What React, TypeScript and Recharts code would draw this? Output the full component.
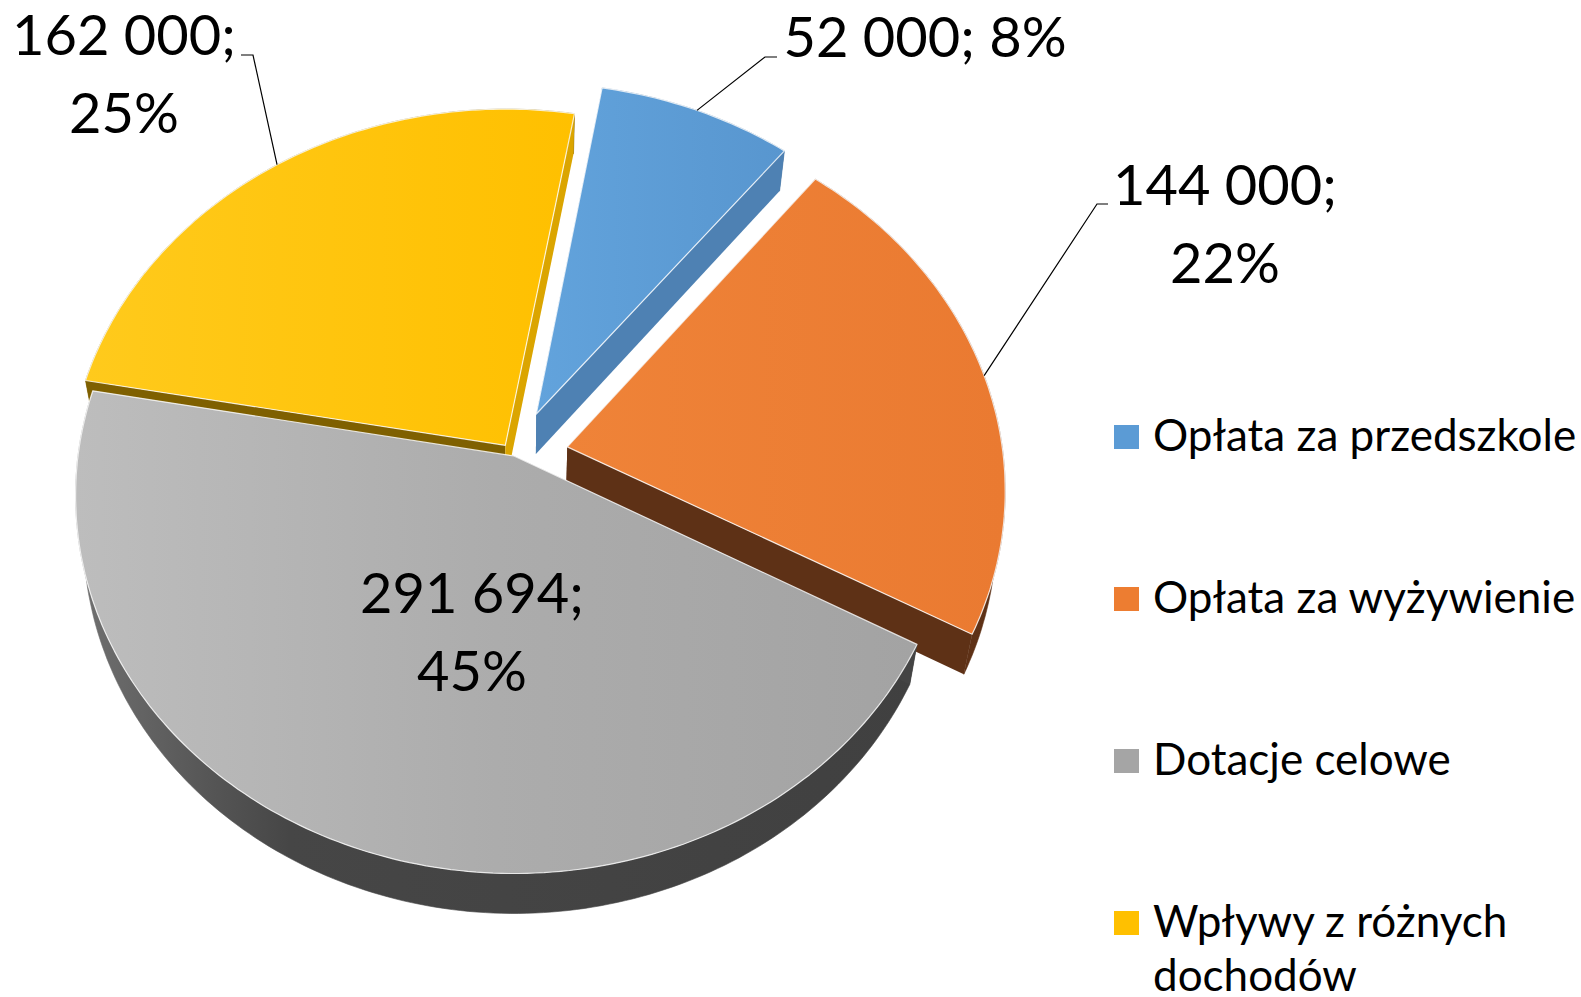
import React from "react";
import { Legend, Pie, PieChart } from "recharts";

const CATEGORIES = [
  "Opłata za przedszkole",
  "Opłata za wyżywienie",
  "Dotacje celowe",
  "Wpływy z różnych dochodów",
];
const VALUES = [52000, 144000, 291694, 162000];

const COLORS = ["#5B9BD5", "#ED7D31", "#A5A5A5", "#FFC000"];
// side faces of each slice: [start edge, end edge, outer rim]
const SIDES = [
  ["#4A7BAA", "#4E81B3", "#41709E"],
  ["#5E3116", "#5E3116", "#5E3116"],
  ["#444444", "#444444", "url(#grayRim)"],
  ["#7F6000", "#DBA500", "#7F6000"],
];
const EXPLODE = [0.125, 0.125, 0, 0.035];

// where excel put the data labels (text centre / baseline, leader elbow)
const LABEL_LAYOUT = [
  { x: 925, y: 57, oneLine: true, elbow: [[765, 57], [777, 57]] },
  { x: 1225, y: 205, oneLine: false, elbow: [[1097, 204], [1108, 204]] },
  { x: 472, y: 613, oneLine: false, elbow: null },
  { x: 124, y: 55, oneLine: false, elbow: [[253, 55], [241, 55]] },
];

const data = CATEGORIES.map((name, i) => ({ name, value: VALUES[i] }));

const SQUASH = 0.857; // vertical / horizontal radius of the tilted disc
const PERSP = 0.105; // far side shrinks a bit
const DEPTH = 40;
const BOTTOM_SHRINK = 0.982; // bottom face sits a little further from the eye
const RAD = Math.PI / 180;
const FONT = "Lato, 'Open Sans', sans-serif";

type Pt = [number, number];

function project(cx: number, cy: number, r: number, u: number, v: number): Pt {
  const w = 1 + PERSP * v;
  return [cx + (r * u) / w, cy - (r * SQUASH * v) / w];
}

function sliceGeom(p: any) {
  const e = EXPLODE[p.index] ?? 0;
  const ou = e * Math.cos(p.midAngle * RAD);
  const ov = e * Math.sin(p.midAngle * RAD);
  const apex = project(p.cx, p.cy, p.outerRadius, ou, ov);
  const n = Math.max(2, Math.ceil(Math.abs(p.endAngle - p.startAngle)));
  const rim: Pt[] = [];
  for (let i = 0; i <= n; i++) {
    const a = (p.startAngle + ((p.endAngle - p.startAngle) * i) / n) * RAD;
    rim.push(project(p.cx, p.cy, p.outerRadius, ou + Math.cos(a), ov + Math.sin(a)));
  }
  const m = p.midAngle * RAD;
  const mid = project(p.cx, p.cy, p.outerRadius, ou + Math.cos(m), ov + Math.sin(m));
  return { apex, rim, mid };
}

const poly = (pts: Pt[]) =>
  "M" + pts.map((q) => q[0].toFixed(1) + "," + q[1].toFixed(1)).join("L") + "Z";

const renderWalls = (p: any) => {
  const { apex, rim } = sliceGeom(p);
  const [startC, endC, rimC] = SIDES[p.index];
  const down = (q: Pt): Pt => [p.cx + (q[0] - p.cx) * BOTTOM_SHRINK, q[1] + DEPTH];
  const s = rim[0];
  const e = rim[rim.length - 1];
  const band = [...rim, ...rim.slice().reverse().map(down)];
  return (
    <g key={`wall-${p.index}`}>
      <path d={poly(band)} fill={rimC} stroke={rimC} strokeWidth={0.6} />
      <path d={poly([apex, s, down(s), down(apex)])} fill={startC} />
      <path d={poly([apex, e, down(e), down(apex)])} fill={endC} />
    </g>
  );
};

const renderTops = (p: any) => {
  const { apex, rim } = sliceGeom(p);
  return (
    <path
      key={`top-${p.index}`}
      d={poly([apex, ...rim])}
      fill={`url(#top${p.index})`}
      stroke="rgba(255,255,255,0.8)"
      strokeWidth={1.2}
      strokeLinejoin="round"
    />
  );
};

const fmt = (v: number) => String(v).replace(/\B(?=(\d{3})+(?!\d))/g, " ");

const renderText = (p: any) => {
  const lay = LABEL_LAYOUT[p.index];
  const { mid } = sliceGeom(p);
  const pct = `${Math.round(p.percent * 100)}%`;
  const first = `${fmt(p.value)};`;
  return (
    <g key={`lbl-${p.index}`}>
      {lay.elbow && (
        <polyline
          points={[mid, ...lay.elbow].map((q) => q.join(",")).join(" ")}
          fill="none"
          stroke="#000"
          strokeWidth={1.2}
        />
      )}
      <text x={lay.x} y={lay.y} textAnchor="middle" fontFamily={FONT} fontSize={56} fill="#000">
        {lay.oneLine ? `${first} ${pct}` : first}
      </text>
      {!lay.oneLine && (
        <text x={lay.x} y={lay.y + 78} textAnchor="middle" fontFamily={FONT} fontSize={56} fill="#000">
          {pct}
        </text>
      )}
    </g>
  );
};

const renderLegend = () => (
  <div style={{ position: "relative", width: 467, height: 590, fontFamily: FONT }}>
    {CATEGORIES.map((name, i) => (
      <div key={name} style={{ position: "absolute", left: 0, top: i * 162, width: 467 }}>
        <div
          style={{
            position: "absolute",
            left: 0,
            top: 18,
            width: 25,
            height: 24,
            background: COLORS[i],
          }}
        />
        <div
          style={{
            position: "absolute",
            left: 39,
            top: 0,
            width: 428,
            fontSize: 44,
            lineHeight: "54px",
            color: "#000",
          }}
        >
          {name}
        </div>
      </div>
    ))}
  </div>
);

export default function App() {
  const pieCommon = {
    data,
    dataKey: "value",
    nameKey: "name",
    cx: 514,
    cy: 456,
    outerRadius: 436,
    startAngle: 80,
    endAngle: -280,
    stroke: "none",
    fillOpacity: 0,
    labelLine: false,
    isAnimationActive: false,
  };

  return (
    <div style={{ position: "absolute", left: 0, top: 0, width: 1581, height: 997, background: "#fff" }}>
      <PieChart width={1581} height={997} margin={{ top: 0, right: 0, bottom: 0, left: 0 }}>
        <defs>
          <linearGradient id="top0" x1="0" y1="0" x2="1" y2="0">
            <stop offset="0" stopColor="#62A3DC" />
            <stop offset="1" stopColor="#5896CF" />
          </linearGradient>
          <linearGradient id="top1" x1="0" y1="0" x2="1" y2="0">
            <stop offset="0" stopColor="#EF8338" />
            <stop offset="1" stopColor="#EA7A31" />
          </linearGradient>
          <linearGradient id="top2" x1="0" y1="0" x2="1" y2="0">
            <stop offset="0" stopColor="#BDBDBD" />
            <stop offset="0.5" stopColor="#ACACAC" />
            <stop offset="1" stopColor="#A3A3A3" />
          </linearGradient>
          <linearGradient id="top3" x1="0" y1="0" x2="1" y2="0">
            <stop offset="0" stopColor="#FFCA1C" />
            <stop offset="1" stopColor="#FFC000" />
          </linearGradient>
          <linearGradient id="grayRim" gradientUnits="userSpaceOnUse" x1="76" y1="0" x2="930" y2="0">
            <stop offset="0" stopColor="#707070" />
            <stop offset="0.25" stopColor="#464646" />
            <stop offset="1" stopColor="#404040" />
          </linearGradient>
        </defs>
        <Pie {...pieCommon} legendType="none" label={renderWalls} />
        <Pie {...pieCommon} label={renderTops} />
        <Pie {...pieCommon} legendType="none" label={renderText} />
        <Legend
          layout="vertical"
          align="right"
          verticalAlign="top"
          wrapperStyle={{ position: "absolute", left: 1114, top: 407, width: 467 }}
          content={renderLegend}
        />
      </PieChart>
    </div>
  );
}
